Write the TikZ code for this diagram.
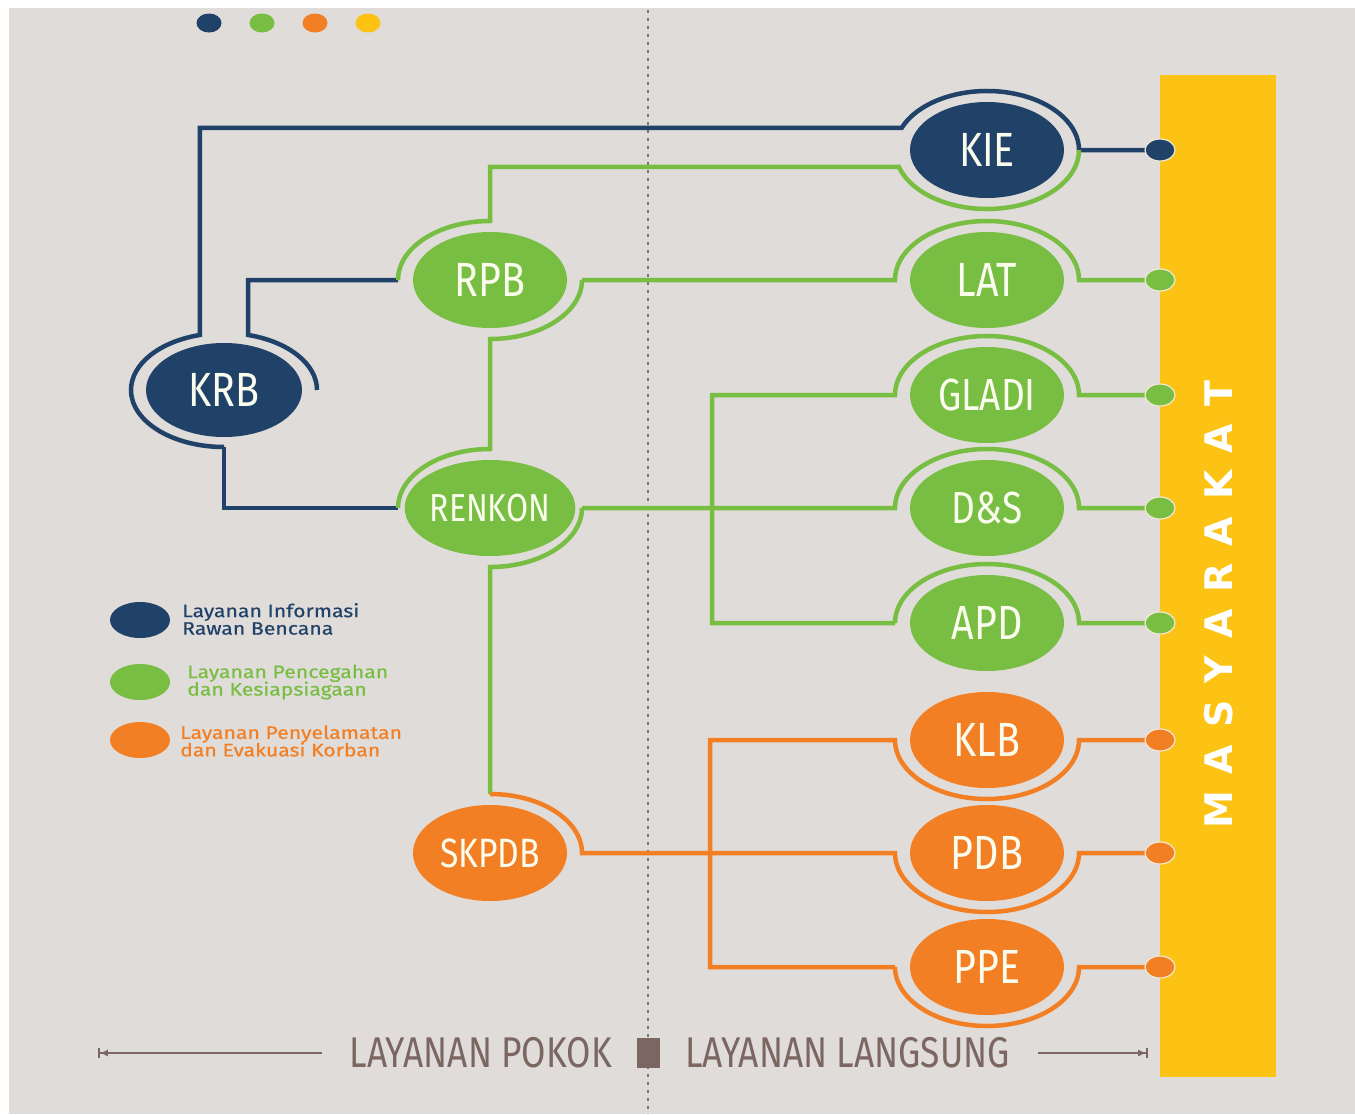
\documentclass[tikz,border=0pt]{standalone}
\usepackage{fontspec}
\setmainfont{Fira Sans}[FakeStretch=0.82]
\newfontfamily\legfont{Fira Sans}[FakeStretch=1.18, FakeBold=0.5]
\newfontfamily\mfont{DejaVu Sans}
\newcommand\legsetup{\legfont\fontsize{18}{17.5}\selectfont\lineskiplimit=-30pt\relax\lineskip=0pt\relax}
\usetikzlibrary{calc,shapes.geometric,arrows.meta}
\definecolor{bg}{RGB}{223,220,217}
\definecolor{navy}{RGB}{32,65,104}
\definecolor{grn}{RGB}{120,190,67}
\definecolor{orng}{RGB}{242,127,36}
\definecolor{yel}{RGB}{252,195,21}
\definecolor{brn}{RGB}{123,102,97}
\definecolor{dotline}{RGB}{120,114,110}
\definecolor{ntext}{RGB}{250,252,238}
\definecolor{halo}{RGB}{240,232,214}
\tikzset{
  svc/.style={ellipse, minimum width=154pt, minimum height=96pt, inner sep=0pt, text=ntext, font=\fontsize{48}{48}\selectfont},
  nv/.style={draw=navy, line width=4.5pt},
  gr/.style={draw=grn, line width=4.5pt},
  orl/.style={draw=orng, line width=4.5pt},
  enddot/.style={ellipse, minimum width=30pt, minimum height=22pt, inner sep=0pt, draw=halo, line width=1.2pt},
  legdot/.style={ellipse, minimum width=60pt, minimum height=36pt, inner sep=0pt},
  legtext/.style={anchor=west, inner sep=0pt, align=left, font=\legsetup},
  topdot/.style={ellipse, minimum width=25pt, minimum height=19pt, inner sep=0pt},
  bottomlabel/.style={inner sep=0pt, text=brn, font=\fontsize{43}{43}\selectfont},
  R/.style={x radius=92, y radius=59},
  RK/.style={x radius=93, y radius=57}
}
\begin{document}
\begin{tikzpicture}[x=1pt, y=-1pt]
\useasboundingbox (0,0) rectangle (1355,1114);
\fill[white] (0,0) rectangle (1355,1114);
\fill[bg] (9,8) rectangle (1355,1114);
% dotted divider
\draw[dotline, line width=2.5pt, dash pattern=on 3pt off 5pt] (648,10) -- (648,1114);
% yellow bar
\fill[yel] (1160,75) rectangle (1276,1077);
\node[rotate=90, text=white, font=\mfont\bfseries\fontsize{38}{38}\selectfont] (masy) at (1219,605)
  {M\hspace{17pt}A\hspace{17pt}S\hspace{17pt}Y\hspace{17pt}A\hspace{17pt}R\hspace{17pt}A\hspace{17pt}K\hspace{17pt}A\hspace{17pt}T};
% top dots
\node[topdot, fill=navy] (t1) at (209,23) {};
\node[topdot, fill=grn] (t2) at (262,23) {};
\node[topdot, fill=orng] (t3) at (315,23) {};
\node[topdot, fill=yel] (t4) at (368,23) {};
% service nodes
\node[svc, fill=navy] (KIE) at (987,150) {KIE};
\node[svc, fill=grn] (LAT) at (987,280) {LAT};
\node[svc, fill=grn, font=\fontsize{45}{45}\selectfont] (GLADI) at (987,395) {GLADI};
\node[svc, fill=grn, font=\fontsize{45}{45}\selectfont] (DS) at (987,508) {D\&S};
\node[svc, fill=grn] (APD) at (987,623) {APD};
\node[svc, fill=orng] (KLB) at (987,740) {KLB};
\node[svc, fill=orng] (PDB) at (987,853) {PDB};
\node[svc, fill=orng] (PPE) at (987,967) {PPE};
\node[svc, fill=grn] (RPB) at (490,280) {RPB};
\node[svc, fill=grn, font=\fontsize{39}{39}\selectfont] (RENKON) at (490,508) {RENKON};
\node[svc, fill=orng, font=\fontsize{41}{41}\selectfont] (SKPDB) at (490,853) {SKPDB};
\node[svc, fill=navy, minimum width=156pt, minimum height=94pt] (KRB) at (224,390) {KRB};
% ring points
\foreach \n in {KIE,LAT,GLADI,DS,APD,KLB,PDB,PPE,RPB,RENKON,SKPDB}{
  \coordinate (\n-l) at ($(\n)+(180:92 and 59)$);
  \coordinate (\n-r) at ($(\n)+(0:92 and 59)$);
  \coordinate (\n-t) at ($(\n)+(270:92 and 59)$);
  \coordinate (\n-b) at ($(\n)+(90:92 and 59)$);
}
\foreach \n in {KIE,LAT,GLADI,DS,APD,KLB,PDB,PPE}{
  \coordinate (\n-dc) at (\n -| 1160,0);
}
\coordinate (KRB-b) at ($(KRB)+(90:93 and 57)$);
\coordinate (KRB-r) at ($(KRB)+(0:93 and 57)$);
\coordinate (gbus) at (712,0);
\coordinate (obus) at (710,0);
% navy connectors
\draw[nv] (KRB-b) arc[start angle=90, end angle=255, RK] |- ($(KIE)+(202:92 and 59)$) arc[start angle=202, end angle=360, R] -- (KIE-dc);
\draw[nv] (KRB-r) arc[start angle=0, end angle=-75, RK] |- (RPB-l);
\draw[nv] (KRB-b) |- (RENKON-l);
% green connectors
\draw[gr] (RPB-l) arc[start angle=180, end angle=270, R] |- ($(KIE)+(163.3:92 and 59)$) arc[start angle=163.3, end angle=0, R];
\draw[gr] (RPB-r) -- (LAT-l) arc[start angle=180, end angle=360, R] -- (LAT-dc);
\draw[gr] (RPB-r) arc[start angle=0, end angle=90, R] -- (RENKON-t) arc[start angle=270, end angle=180, R];
\draw[gr] (RENKON-r) -- (DS-l) arc[start angle=180, end angle=360, R] -- (DS-dc);
\draw[gr] (RENKON-r) arc[start angle=0, end angle=90, R] -- (SKPDB-t);
\draw[gr] (APD-l) -| (gbus |- GLADI) -- (GLADI-l) arc[start angle=180, end angle=360, R] -- (GLADI-dc);
\draw[gr] (APD-l) arc[start angle=180, end angle=360, R] -- (APD-dc);
% orange connectors
\draw[orl] (SKPDB-t) arc[start angle=270, end angle=360, R] -- (PDB-l) arc[start angle=180, end angle=0, R] -- (PDB-dc);
\draw[orl] (PPE-l) -| (obus |- KLB) -- (KLB-l) arc[start angle=180, end angle=0, R] -- (KLB-dc);
\draw[orl] (PPE-l) arc[start angle=180, end angle=0, R] -- (PPE-dc);
% end dots
\node[enddot, fill=navy] (KIE-d) at (KIE-dc) {};
\node[enddot, fill=grn] (LAT-d) at (LAT-dc) {};
\node[enddot, fill=grn] (GLADI-d) at (GLADI-dc) {};
\node[enddot, fill=grn] (DS-d) at (DS-dc) {};
\node[enddot, fill=grn] (APD-d) at (APD-dc) {};
\node[enddot, fill=orng] (KLB-d) at (KLB-dc) {};
\node[enddot, fill=orng] (PDB-d) at (PDB-dc) {};
\node[enddot, fill=orng] (PPE-d) at (PPE-dc) {};
% legend
\node[legdot, fill=navy] (L1) at (140,620) {};
\node[legdot, fill=grn] (L2) at (140,682) {};
\node[legdot, fill=orng] (L3) at (140,740) {};
\node[legtext, text=navy] (L1t) at (182,619) {Layanan Informasi\\Rawan Bencana};
\node[legtext, text=grn] (L2t) at (187,682) {Layanan Pencegahan\\dan Kesiapsiagaan};
\node[legtext, text=orng] (L3t) at (180,741) {Layanan Penyelamatan\\dan Evakuasi Korban};
% bottom labels
\fill[brn] (637,1038) rectangle (660,1068);
\node[bottomlabel, anchor=east] (pokok) at (612,1053) {LAYANAN POKOK};
\node[bottomlabel, anchor=west] (langsung) at (685,1053) {LAYANAN LANGSUNG};
\coordinate (aL) at (98,1053);
\coordinate (aLs) at (322,1053);
\coordinate (aRs) at (1038,1053);
\coordinate (aR) at (1148,1053);
\draw[brn, line width=1.8pt, {Bar[width=10pt]Latex[length=8pt,width=7pt]}-] (aL) -- (aLs);
\draw[brn, line width=1.8pt, -{Latex[length=8pt,width=7pt]Bar[width=10pt]}] (aRs) -- (aR);
\end{tikzpicture}
\end{document}
